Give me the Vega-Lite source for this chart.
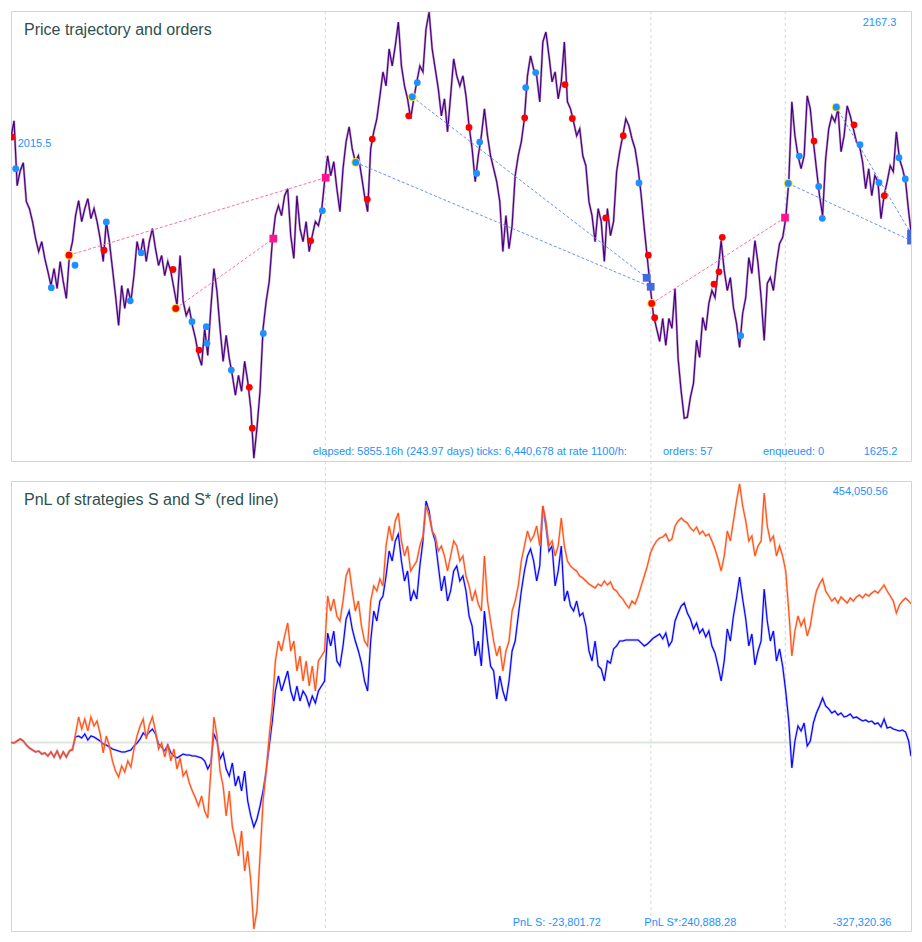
{
"$schema": "https://vega.github.io/schema/vega-lite/v6.json",
"padding": {"left": 10, "top": 10, "right": 12, "bottom": 12},
"background": "white",
"spacing": 20,
"bounds": "flush",
"config": {"view": {"stroke": "#d4d4d4", "strokeWidth": 1}, "axis": {"disable": true}, "font": "Liberation Sans", "text": {"font": "Liberation Sans"}},
"datasets": {
"gridx": [{"t": 2045}, {"t": 4163}, {"t": 5037}],
"price": [{"t":0,"p":2015.5},{"t":20,"p":2035},{"t":40,"p":1956.9},{"t":60,"p":1974.9},{"t":80,"p":1984.5},{"t":100,"p":1937.6},{"t":120,"p":1929.2},{"t":140,"p":1913.6},{"t":160,"p":1893.1},{"t":180,"p":1877.5},{"t":200,"p":1889.5},{"t":220,"p":1869.1},{"t":240,"p":1853.4},{"t":260,"p":1836.6},{"t":280,"p":1857.1},{"t":300,"p":1833},{"t":320,"p":1865.5},{"t":340,"p":1841.4},{"t":360,"p":1821},{"t":380,"p":1872.7},{"t":400,"p":1889.5},{"t":420,"p":1920.8},{"t":440,"p":1938.8},{"t":460,"p":1913.6},{"t":480,"p":1929.2},{"t":500,"p":1941.2},{"t":520,"p":1917.2},{"t":540,"p":1929.2},{"t":560,"p":1913.6},{"t":580,"p":1893.1},{"t":600,"p":1865.5},{"t":620,"p":1913.6},{"t":640,"p":1889.5},{"t":660,"p":1857.1},{"t":680,"p":1824.6},{"t":700,"p":1788.5},{"t":720,"p":1836.6},{"t":740,"p":1809},{"t":760,"p":1833},{"t":780,"p":1817.4},{"t":800,"p":1848.6},{"t":820,"p":1889.5},{"t":840,"p":1872.7},{"t":860,"p":1893.1},{"t":880,"p":1865.5},{"t":900,"p":1889.5},{"t":920,"p":1905.2},{"t":940,"p":1881.1},{"t":960,"p":1860.7},{"t":980,"p":1872.7},{"t":1000,"p":1848.6},{"t":1020,"p":1865.5},{"t":1040,"p":1853.4},{"t":1060,"p":1833},{"t":1080,"p":1812.6},{"t":1100,"p":1872.7},{"t":1120,"p":1817.4},{"t":1140,"p":1800.5},{"t":1160,"p":1809},{"t":1180,"p":1788.5},{"t":1200,"p":1772.9},{"t":1220,"p":1752.4},{"t":1240,"p":1740.4},{"t":1260,"p":1784.9},{"t":1280,"p":1752.4},{"t":1300,"p":1809},{"t":1320,"p":1857.1},{"t":1340,"p":1829.4},{"t":1360,"p":1784.9},{"t":1380,"p":1745.2},{"t":1400,"p":1776.5},{"t":1420,"p":1748.8},{"t":1440,"p":1728.4},{"t":1460,"p":1704.4},{"t":1480,"p":1728.4},{"t":1500,"p":1709.2},{"t":1520,"p":1745.2},{"t":1540,"p":1721.2},{"t":1560,"p":1688.7},{"t":1580,"p":1628.6},{"t":1600,"p":1664.7},{"t":1620,"p":1709.2},{"t":1640,"p":1784.9},{"t":1660,"p":1817.4},{"t":1680,"p":1841.4},{"t":1700,"p":1889.5},{"t":1720,"p":1920.8},{"t":1740,"p":1932.8},{"t":1760,"p":1920.8},{"t":1780,"p":1944.8},{"t":1800,"p":1953.2},{"t":1820,"p":1896.7},{"t":1840,"p":1869.1},{"t":1860,"p":1944.8},{"t":1880,"p":1905.2},{"t":1900,"p":1889.5},{"t":1920,"p":1913.6},{"t":1940,"p":1877.5},{"t":1960,"p":1896.7},{"t":1980,"p":1913.6},{"t":2000,"p":1908.8},{"t":2020,"p":1925.6},{"t":2040,"p":1961.7},{"t":2060,"p":1992.9},{"t":2080,"p":1968.9},{"t":2100,"p":1985.7},{"t":2120,"p":1953.2},{"t":2140,"p":1925.6},{"t":2160,"p":1977.3},{"t":2180,"p":2009.8},{"t":2200,"p":2027.8},{"t":2220,"p":2001.3},{"t":2240,"p":1985.7},{"t":2260,"p":1992.9},{"t":2280,"p":1968.9},{"t":2300,"p":1944.8},{"t":2320,"p":1925.6},{"t":2340,"p":2001.3},{"t":2360,"p":2021.8},{"t":2380,"p":2037.4},{"t":2400,"p":2065.1},{"t":2420,"p":2093.9},{"t":2440,"p":2077.1},{"t":2460,"p":2121.6},{"t":2480,"p":2101.1},{"t":2500,"p":2125.2},{"t":2520,"p":2154},{"t":2540,"p":2101.1},{"t":2560,"p":2077.1},{"t":2580,"p":2061.5},{"t":2600,"p":2037.4},{"t":2620,"p":2061.5},{"t":2640,"p":2081.9},{"t":2660,"p":2101.1},{"t":2680,"p":2093.9},{"t":2700,"p":2145.6},{"t":2720,"p":2166.1},{"t":2740,"p":2121.6},{"t":2760,"p":2097.5},{"t":2780,"p":2073.5},{"t":2800,"p":2041},{"t":2820,"p":2061.5},{"t":2840,"p":2021.8},{"t":2860,"p":2065.1},{"t":2880,"p":2109.6},{"t":2900,"p":2089.1},{"t":2920,"p":2077.1},{"t":2940,"p":2089.1},{"t":2960,"p":2065.1},{"t":2980,"p":2029},{"t":3000,"p":2001.3},{"t":3020,"p":1961.7},{"t":3040,"p":1992.9},{"t":3060,"p":2017},{"t":3080,"p":2049.4},{"t":3100,"p":2017},{"t":3120,"p":1992.9},{"t":3140,"p":1977.3},{"t":3160,"p":1961.7},{"t":3180,"p":1937.6},{"t":3200,"p":1877.5},{"t":3220,"p":1920.8},{"t":3240,"p":1881.1},{"t":3260,"p":1908.8},{"t":3280,"p":1968.9},{"t":3300,"p":1992.9},{"t":3320,"p":2009.8},{"t":3340,"p":2037.4},{"t":3360,"p":2089.1},{"t":3380,"p":2113.2},{"t":3400,"p":2097.5},{"t":3420,"p":2089.1},{"t":3440,"p":2057.9},{"t":3460,"p":2130},{"t":3480,"p":2142},{"t":3500,"p":2113.2},{"t":3520,"p":2081.9},{"t":3540,"p":2093.9},{"t":3560,"p":2061.5},{"t":3580,"p":2081.9},{"t":3600,"p":2130},{"t":3620,"p":2057.9},{"t":3640,"p":2049.4},{"t":3660,"p":2033.8},{"t":3680,"p":2017},{"t":3700,"p":2025.4},{"t":3720,"p":1992.9},{"t":3740,"p":1980.9},{"t":3760,"p":1937.6},{"t":3780,"p":1920.8},{"t":3800,"p":1889.5},{"t":3820,"p":1929.2},{"t":3840,"p":1913.6},{"t":3860,"p":1865.5},{"t":3880,"p":1929.2},{"t":3900,"p":1896.7},{"t":3920,"p":1913.6},{"t":3940,"p":1973.7},{"t":3960,"p":1997.7},{"t":3980,"p":2017},{"t":4000,"p":2037.4},{"t":4020,"p":2029},{"t":4040,"p":2013.4},{"t":4060,"p":2001.3},{"t":4080,"p":1977.3},{"t":4100,"p":1944.8},{"t":4120,"p":1905.2},{"t":4140,"p":1869.1},{"t":4160,"p":1833},{"t":4180,"p":1800.5},{"t":4200,"p":1784.9},{"t":4220,"p":1769.3},{"t":4240,"p":1796.9},{"t":4260,"p":1764.5},{"t":4280,"p":1796.9},{"t":4300,"p":1784.9},{"t":4320,"p":1833},{"t":4340,"p":1748.8},{"t":4360,"p":1709.2},{"t":4380,"p":1676.7},{"t":4400,"p":1677.9},{"t":4420,"p":1701.9},{"t":4440,"p":1718.8},{"t":4460,"p":1770.5},{"t":4480,"p":1750},{"t":4500,"p":1798.1},{"t":4520,"p":1782.5},{"t":4540,"p":1815},{"t":4560,"p":1830.6},{"t":4580,"p":1822.2},{"t":4600,"p":1854.7},{"t":4620,"p":1890.7},{"t":4640,"p":1854.7},{"t":4660,"p":1830.6},{"t":4680,"p":1846.2},{"t":4700,"p":1810.2},{"t":4720,"p":1790.9},{"t":4740,"p":1762.1},{"t":4760,"p":1802.9},{"t":4780,"p":1822.2},{"t":4800,"p":1870.3},{"t":4820,"p":1851},{"t":4840,"p":1890.7},{"t":4860,"p":1863.1},{"t":4880,"p":1822.2},{"t":4900,"p":1770.5},{"t":4920,"p":1839},{"t":4940,"p":1846.2},{"t":4960,"p":1830.6},{"t":4980,"p":1863.1},{"t":5000,"p":1887.1},{"t":5020,"p":1894.3},{"t":5040,"p":1917.2},{"t":5060,"p":1961.7},{"t":5080,"p":2057.9},{"t":5100,"p":2017},{"t":5120,"p":1992.9},{"t":5140,"p":1977.3},{"t":5160,"p":1992.9},{"t":5180,"p":2065.1},{"t":5200,"p":2049.4},{"t":5220,"p":2009.8},{"t":5240,"p":1977.3},{"t":5260,"p":1944.8},{"t":5280,"p":1920.8},{"t":5300,"p":1989.3},{"t":5320,"p":2025.4},{"t":5340,"p":2041},{"t":5360,"p":2033.8},{"t":5380,"p":2049.4},{"t":5400,"p":1997.7},{"t":5420,"p":2017},{"t":5440,"p":2053},{"t":5460,"p":2041},{"t":5480,"p":2025.4},{"t":5500,"p":2009.8},{"t":5520,"p":2005},{"t":5540,"p":1985.7},{"t":5560,"p":1953.2},{"t":5580,"p":1977.3},{"t":5600,"p":1944.8},{"t":5620,"p":1968.9},{"t":5640,"p":1961.7},{"t":5660,"p":1917.2},{"t":5680,"p":1944.8},{"t":5700,"p":1961.7},{"t":5720,"p":1980.9},{"t":5740,"p":1973.7},{"t":5760,"p":2021.8},{"t":5780,"p":1989.3},{"t":5800,"p":1977.3},{"t":5820,"p":1961.7},{"t":5840,"p":1925.6},{"t":5855.16,"p":1901.5}],
"orders": [{"t":5,"p":2015.5,"side":"sell","hl":0},{"t":30.6,"p":1977.3,"side":"buy","hl":0},{"t":262.2,"p":1833.9,"side":"buy","hl":0},{"t":377.3,"p":1873.1,"side":"sell","hl":1},{"t":416.4,"p":1861,"side":"buy","hl":0},{"t":605,"p":1879.1,"side":"sell","hl":0},{"t":620,"p":1913.2,"side":"buy","hl":0},{"t":776.1,"p":1818.2,"side":"buy","hl":0},{"t":847.7,"p":1875.9,"side":"buy","hl":0},{"t":1053.9,"p":1855.9,"side":"sell","hl":0},{"t":1071.5,"p":1809,"side":"sell","hl":1},{"t":1177.5,"p":1793,"side":"buy","hl":0},{"t":1270.6,"p":1787,"side":"buy","hl":0},{"t":1275.1,"p":1766.9,"side":"buy","hl":0},{"t":1223.1,"p":1758.8,"side":"sell","hl":0},{"t":1433.2,"p":1734.8,"side":"buy","hl":0},{"t":1550.3,"p":1714,"side":"sell","hl":0},{"t":1569.8,"p":1664.7,"side":"sell","hl":0},{"t":1641.4,"p":1778.9,"side":"buy","hl":0},{"t":1949.8,"p":1890.4,"side":"sell","hl":0},{"t":2025.2,"p":1926.8,"side":"buy","hl":0},{"t":2242.5,"p":1984.9,"side":"buy","hl":1},{"t":2318,"p":1940.4,"side":"sell","hl":0},{"t":2350.5,"p":2013,"side":"sell","hl":0},{"t":2587.3,"p":2041,"side":"sell","hl":0},{"t":2610.7,"p":2063.9,"side":"buy","hl":1},{"t":2643.3,"p":2081.1,"side":"buy","hl":0},{"t":2979.6,"p":2027,"side":"sell","hl":0},{"t":3029.7,"p":1971.6,"side":"buy","hl":0},{"t":3049.2,"p":2009.4,"side":"buy","hl":0},{"t":3342,"p":2038.6,"side":"sell","hl":0},{"t":3348.5,"p":2075.1,"side":"buy","hl":0},{"t":3413.5,"p":2093.1,"side":"buy","hl":0},{"t":3604.2,"p":2078.7,"side":"sell","hl":0},{"t":3651.7,"p":2037.8,"side":"sell","hl":0},{"t":3868.9,"p":1918,"side":"sell","hl":0},{"t":3983.4,"p":2017,"side":"sell","hl":0},{"t":4085.6,"p":1960.1,"side":"buy","hl":0},{"t":4146.1,"p":1873.1,"side":"sell","hl":0},{"t":4168.2,"p":1815,"side":"sell","hl":1},{"t":4187.7,"p":1797.8,"side":"sell","hl":0},{"t":4573.5,"p":1838.2,"side":"sell","hl":0},{"t":4606,"p":1853.1,"side":"sell","hl":0},{"t":4627.5,"p":1894.7,"side":"sell","hl":0},{"t":4747.2,"p":1776.1,"side":"buy","hl":0},{"t":5056.9,"p":1959.6,"side":"buy","hl":1},{"t":5128.4,"p":1992.6,"side":"buy","hl":0},{"t":5224.1,"p":2010.6,"side":"sell","hl":0},{"t":5254.7,"p":1956,"side":"buy","hl":0},{"t":5278.1,"p":1917.5,"side":"buy","hl":0},{"t":5369.2,"p":2051.5,"side":"buy","hl":1},{"t":5484.3,"p":2030.2,"side":"sell","hl":0},{"t":5523.4,"p":2006.2,"side":"buy","hl":0},{"t":5647,"p":1960.5,"side":"buy","hl":0},{"t":5681.5,"p":1944.8,"side":"sell","hl":0},{"t":5777.1,"p":1990.5,"side":"buy","hl":0},{"t":5818.1,"p":1964.9,"side":"buy","hl":0}],
"fills": [{"t":1706.5,"p":1893.1,"side":"sell"},{"t":2047.3,"p":1966.5,"side":"sell"},{"t":5035.4,"p":1918.4,"side":"sell"},{"t":4135.7,"p":1845.9,"side":"buy"},{"t":4161.7,"p":1835.1,"side":"buy"},{"t":5855.16,"p":1899.1,"side":"buy"},{"t":5855.16,"p":1890.7,"side":"buy"}],
"links": [{"t":377.3,"p":1873.1,"t2":2047.3,"p2":1966.5,"side":"sell"},{"t":1071.5,"p":1809,"t2":1706.5,"p2":1893.1,"side":"sell"},{"t":4168.2,"p":1815,"t2":5035.4,"p2":1918.4,"side":"sell"},{"t":2242.5,"p":1984.9,"t2":4161.7,"p2":1835.1,"side":"buy"},{"t":2610.7,"p":2063.9,"t2":4135.7,"p2":1845.9,"side":"buy"},{"t":5056.9,"p":1959.6,"t2":5855.16,"p2":1890.7,"side":"buy"},{"t":5369.2,"p":2051.5,"t2":5855.16,"p2":1899.1,"side":"buy"}],
"pnl": [{"t":0,"s":0,"ss":0},{"t":20,"s":-900,"ss":-900},{"t":40,"s":2600,"ss":2600},{"t":60,"s":6100,"ss":6100},{"t":80,"s":2600,"ss":2600},{"t":100,"s":-4300,"ss":-4300},{"t":120,"s":-9600,"ss":-9600},{"t":140,"s":-13000,"ss":-13000},{"t":160,"s":-16500,"ss":-16500},{"t":180,"s":-14800,"ss":-14800},{"t":200,"s":-20000,"ss":-20000},{"t":220,"s":-18200,"ss":-18200},{"t":240,"s":-23400,"ss":-23400},{"t":260,"s":-16500,"ss":-16500},{"t":280,"s":-25200,"ss":-25200},{"t":300,"s":-14800,"ss":-14800},{"t":320,"s":-26900,"ss":-26900},{"t":340,"s":-16500,"ss":-16500},{"t":360,"s":-25200,"ss":-25200},{"t":380,"s":-14800,"ss":-14800},{"t":400,"s":-11300,"ss":-13000},{"t":420,"s":9600,"ss":14800},{"t":440,"s":11300,"ss":44300},{"t":460,"s":7800,"ss":23400},{"t":480,"s":14800,"ss":40800},{"t":500,"s":4300,"ss":20000},{"t":520,"s":11300,"ss":44300},{"t":540,"s":9600,"ss":28700},{"t":560,"s":6100,"ss":37300},{"t":580,"s":2600,"ss":14800},{"t":600,"s":-2600,"ss":-18200},{"t":620,"s":-4300,"ss":11300},{"t":640,"s":-7800,"ss":-6100},{"t":660,"s":-11300,"ss":-32100},{"t":680,"s":-13000,"ss":-49500},{"t":700,"s":-14800,"ss":-59900},{"t":720,"s":-16500,"ss":-40800},{"t":740,"s":-16500,"ss":-51200},{"t":760,"s":-14800,"ss":-32100},{"t":780,"s":-13000,"ss":-42500},{"t":800,"s":-6100,"ss":-11300},{"t":820,"s":-900,"ss":11300},{"t":840,"s":6100,"ss":28700},{"t":860,"s":16500,"ss":40800},{"t":880,"s":11300,"ss":6100},{"t":900,"s":18200,"ss":30400},{"t":920,"s":23400,"ss":44300},{"t":940,"s":14800,"ss":20000},{"t":960,"s":-2600,"ss":-11300},{"t":980,"s":-7800,"ss":-900},{"t":1000,"s":-14800,"ss":-25200},{"t":1020,"s":-4300,"ss":-4300},{"t":1040,"s":-18200,"ss":-32100},{"t":1060,"s":-23400,"ss":-11300},{"t":1080,"s":-26900,"ss":-46000},{"t":1100,"s":-23400,"ss":-26900},{"t":1120,"s":-20000,"ss":-58200},{"t":1140,"s":-21700,"ss":-49500},{"t":1160,"s":-21700,"ss":-70300},{"t":1180,"s":-23400,"ss":-84200},{"t":1200,"s":-23400,"ss":-96400},{"t":1220,"s":-25200,"ss":-110300},{"t":1240,"s":-26900,"ss":-92900},{"t":1260,"s":-32100,"ss":-118900},{"t":1280,"s":-46000,"ss":-131100},{"t":1300,"s":-35600,"ss":-49500},{"t":1320,"s":14800,"ss":44300},{"t":1340,"s":2600,"ss":11300},{"t":1360,"s":-28700,"ss":-49500},{"t":1380,"s":-18200,"ss":-75500},{"t":1400,"s":-46000,"ss":-127600},{"t":1420,"s":-58200,"ss":-84200},{"t":1440,"s":-35600,"ss":-146700},{"t":1460,"s":-75500,"ss":-171000},{"t":1480,"s":-58200,"ss":-197100},{"t":1500,"s":-84200,"ss":-153700},{"t":1520,"s":-49500,"ss":-223100},{"t":1540,"s":-101600,"ss":-188400},{"t":1560,"s":-127600,"ss":-240500},{"t":1580,"s":-146700,"ss":-323800},{"t":1600,"s":-132800,"ss":-292600},{"t":1620,"s":-110300,"ss":-197100},{"t":1640,"s":-84200,"ss":-101600},{"t":1660,"s":-49500,"ss":-49500},{"t":1680,"s":-6100,"ss":11300},{"t":1700,"s":37300,"ss":63400},{"t":1720,"s":89400,"ss":141500},{"t":1740,"s":115500,"ss":176200},{"t":1760,"s":89400,"ss":158900},{"t":1780,"s":106800,"ss":184900},{"t":1800,"s":124200,"ss":207500},{"t":1820,"s":89400,"ss":158900},{"t":1840,"s":72100,"ss":176200},{"t":1860,"s":98100,"ss":124200},{"t":1880,"s":72100,"ss":150200},{"t":1900,"s":89400,"ss":106800},{"t":1920,"s":80700,"ss":141500},{"t":1940,"s":63400,"ss":98100},{"t":1960,"s":80700,"ss":132800},{"t":1980,"s":68600,"ss":89400},{"t":2000,"s":89400,"ss":141500},{"t":2020,"s":98100,"ss":150200},{"t":2040,"s":106800,"ss":158900},{"t":2060,"s":190100,"ss":254400},{"t":2080,"s":167600,"ss":228300},{"t":2100,"s":193600,"ss":249200},{"t":2120,"s":141500,"ss":219700},{"t":2140,"s":132800,"ss":211000},{"t":2160,"s":167600,"ss":245700},{"t":2180,"s":214400,"ss":289100},{"t":2200,"s":228300,"ss":303000},{"t":2220,"s":197100,"ss":263100},{"t":2240,"s":176200,"ss":228300},{"t":2260,"s":158900,"ss":245700},{"t":2280,"s":138000,"ss":202300},{"t":2300,"s":106800,"ss":176200},{"t":2320,"s":89400,"ss":167600},{"t":2340,"s":176200,"ss":245700},{"t":2360,"s":228300,"ss":271800},{"t":2380,"s":211000,"ss":263100},{"t":2400,"s":245700,"ss":283900},{"t":2420,"s":254400,"ss":271800},{"t":2440,"s":289100,"ss":341200},{"t":2460,"s":332500,"ss":375900},{"t":2480,"s":315200,"ss":349900},{"t":2500,"s":349900,"ss":384600},{"t":2520,"s":362000,"ss":398500},{"t":2540,"s":315200,"ss":349900},{"t":2560,"s":280400,"ss":323800},{"t":2580,"s":297800,"ss":341200},{"t":2600,"s":245700,"ss":297800},{"t":2620,"s":263100,"ss":306500},{"t":2640,"s":249200,"ss":315200},{"t":2660,"s":306500,"ss":341200},{"t":2680,"s":349900,"ss":358600},{"t":2700,"s":419300,"ss":410700},{"t":2720,"s":402000,"ss":393300},{"t":2740,"s":367200,"ss":367200},{"t":2760,"s":349900,"ss":358600},{"t":2780,"s":306500,"ss":332500},{"t":2800,"s":263100,"ss":341200},{"t":2820,"s":289100,"ss":323800},{"t":2840,"s":245700,"ss":297800},{"t":2860,"s":263100,"ss":323800},{"t":2880,"s":297800,"ss":349900},{"t":2900,"s":306500,"ss":341200},{"t":2920,"s":280400,"ss":315200},{"t":2940,"s":289100,"ss":323800},{"t":2960,"s":263100,"ss":289100},{"t":2980,"s":219700,"ss":271800},{"t":3000,"s":202300,"ss":245700},{"t":3020,"s":150200,"ss":263100},{"t":3040,"s":176200,"ss":240500},{"t":3060,"s":132800,"ss":228300},{"t":3080,"s":228300,"ss":323800},{"t":3100,"s":176200,"ss":245700},{"t":3120,"s":132800,"ss":211000},{"t":3140,"s":124200,"ss":176200},{"t":3160,"s":75500,"ss":150200},{"t":3180,"s":115500,"ss":167600},{"t":3200,"s":89400,"ss":124200},{"t":3220,"s":72100,"ss":158900},{"t":3240,"s":106800,"ss":176200},{"t":3260,"s":158900,"ss":228300},{"t":3280,"s":176200,"ss":245700},{"t":3300,"s":219700,"ss":271800},{"t":3320,"s":263100,"ss":315200},{"t":3340,"s":297800,"ss":341200},{"t":3360,"s":323800,"ss":367200},{"t":3380,"s":336000,"ss":349900},{"t":3400,"s":315200,"ss":358600},{"t":3420,"s":280400,"ss":375900},{"t":3440,"s":306500,"ss":341200},{"t":3460,"s":410700,"ss":410700},{"t":3480,"s":375900,"ss":384600},{"t":3500,"s":332500,"ss":341200},{"t":3520,"s":341200,"ss":349900},{"t":3540,"s":271800,"ss":323800},{"t":3560,"s":297800,"ss":341200},{"t":3580,"s":341200,"ss":389800},{"t":3600,"s":245700,"ss":341200},{"t":3620,"s":263100,"ss":315200},{"t":3640,"s":237000,"ss":306500},{"t":3660,"s":228300,"ss":301300},{"t":3680,"s":245700,"ss":297800},{"t":3700,"s":219700,"ss":289100},{"t":3720,"s":224900,"ss":285600},{"t":3740,"s":202300,"ss":280400},{"t":3760,"s":158900,"ss":275200},{"t":3780,"s":141500,"ss":271800},{"t":3800,"s":176200,"ss":268300},{"t":3820,"s":132800,"ss":275200},{"t":3840,"s":127600,"ss":271800},{"t":3860,"s":106800,"ss":280400},{"t":3880,"s":141500,"ss":273500},{"t":3900,"s":138000,"ss":278700},{"t":3920,"s":162400,"ss":266500},{"t":3940,"s":167600,"ss":263100},{"t":3960,"s":176200,"ss":254400},{"t":3980,"s":176200,"ss":249200},{"t":4000,"s":178000,"ss":240500},{"t":4020,"s":178000,"ss":233500},{"t":4040,"s":178000,"ss":245700},{"t":4060,"s":178000,"ss":240500},{"t":4080,"s":178000,"ss":254400},{"t":4100,"s":172800,"ss":271800},{"t":4120,"s":167600,"ss":289100},{"t":4140,"s":171000,"ss":306500},{"t":4160,"s":176200,"ss":329000},{"t":4180,"s":181500,"ss":341200},{"t":4200,"s":184900,"ss":349900},{"t":4220,"s":188400,"ss":355100},{"t":4240,"s":179700,"ss":356800},{"t":4260,"s":190100,"ss":362000},{"t":4280,"s":167600,"ss":349900},{"t":4300,"s":176200,"ss":353400},{"t":4320,"s":211000,"ss":375900},{"t":4340,"s":224900,"ss":384600},{"t":4360,"s":237000,"ss":389800},{"t":4380,"s":242200,"ss":384600},{"t":4400,"s":224900,"ss":381100},{"t":4420,"s":214400,"ss":372500},{"t":4440,"s":197100,"ss":367200},{"t":4460,"s":207500,"ss":374200},{"t":4480,"s":190100,"ss":362000},{"t":4500,"s":197100,"ss":367200},{"t":4520,"s":183200,"ss":358600},{"t":4540,"s":193600,"ss":362000},{"t":4560,"s":167600,"ss":349900},{"t":4580,"s":155400,"ss":336000},{"t":4600,"s":132800,"ss":318600},{"t":4620,"s":106800,"ss":297800},{"t":4640,"s":141500,"ss":323800},{"t":4660,"s":197100,"ss":367200},{"t":4680,"s":176200,"ss":349900},{"t":4700,"s":219700,"ss":384600},{"t":4720,"s":250900,"ss":419300},{"t":4740,"s":287400,"ss":448900},{"t":4760,"s":249200,"ss":410700},{"t":4780,"s":214400,"ss":384600},{"t":4800,"s":167600,"ss":349900},{"t":4820,"s":188400,"ss":358600},{"t":4840,"s":134600,"ss":323800},{"t":4860,"s":158900,"ss":341200},{"t":4880,"s":176200,"ss":349900},{"t":4900,"s":266500,"ss":433200},{"t":4920,"s":211000,"ss":375900},{"t":4940,"s":176200,"ss":349900},{"t":4960,"s":193600,"ss":358600},{"t":4980,"s":141500,"ss":323800},{"t":5000,"s":162400,"ss":341200},{"t":5020,"s":132800,"ss":323800},{"t":5040,"s":89400,"ss":297800},{"t":5060,"s":37300,"ss":228300},{"t":5080,"s":-44300,"ss":150200},{"t":5100,"s":2600,"ss":193600},{"t":5120,"s":28700,"ss":219700},{"t":5140,"s":20000,"ss":202300},{"t":5160,"s":33900,"ss":214400},{"t":5180,"s":-6100,"ss":184900},{"t":5200,"s":2600,"ss":202300},{"t":5220,"s":33900,"ss":237000},{"t":5240,"s":51200,"ss":263100},{"t":5260,"s":63400,"ss":275200},{"t":5280,"s":77300,"ss":283900},{"t":5300,"s":63400,"ss":263100},{"t":5320,"s":58200,"ss":254400},{"t":5340,"s":51200,"ss":245700},{"t":5360,"s":54700,"ss":250900},{"t":5380,"s":47800,"ss":242200},{"t":5400,"s":51200,"ss":252600},{"t":5420,"s":44300,"ss":247400},{"t":5440,"s":46000,"ss":242200},{"t":5460,"s":49500,"ss":250900},{"t":5480,"s":42500,"ss":245700},{"t":5500,"s":44300,"ss":252600},{"t":5520,"s":40800,"ss":256100},{"t":5540,"s":37300,"ss":250900},{"t":5560,"s":39100,"ss":257900},{"t":5580,"s":35600,"ss":254400},{"t":5600,"s":37300,"ss":259600},{"t":5620,"s":32100,"ss":263100},{"t":5640,"s":33900,"ss":259600},{"t":5660,"s":26900,"ss":266500},{"t":5680,"s":40800,"ss":273500},{"t":5700,"s":25200,"ss":263100},{"t":5720,"s":26900,"ss":254400},{"t":5740,"s":23400,"ss":245700},{"t":5760,"s":21700,"ss":224900},{"t":5780,"s":20000,"ss":238800},{"t":5800,"s":21700,"ss":245700},{"t":5820,"s":18200,"ss":250900},{"t":5840,"s":2600,"ss":245700},{"t":5855.16,"s":-23801.72,"ss":240888.28}]
},
"vconcat": [
{
"width": 900, "height": 450,
"layer": [
{"data": {"name": "gridx"}, "mark": {"type": "rule", "color": "#cddccd", "strokeDash": [3, 3], "strokeWidth": 1},
 "encoding": {"x": {"field": "t", "type": "quantitative", "scale": {"domain": [0, 5855.16], "nice": false, "zero": false}},
  "y": {"datum": 2167.3, "type": "quantitative", "scale": {"domain": [1625.2, 2167.3], "nice": false, "zero": false}},
  "y2": {"datum": 1601.5}}},
{"data": {"name": "price"}, "mark": {"type": "line", "color": "#a27cb4", "strokeWidth": 2.4, "opacity": 0.7, "clip": true},
 "encoding": {"x": {"field": "t", "type": "quantitative", "scale": {"domain": [0, 5855.16], "nice": false, "zero": false}},
  "y": {"field": "p", "type": "quantitative", "scale": {"domain": [1625.2, 2167.3], "nice": false, "zero": false}}}},
{"data": {"name": "price"}, "mark": {"type": "line", "color": "#4b0082", "strokeWidth": 1.2, "clip": true},
 "encoding": {"x": {"field": "t", "type": "quantitative", "scale": {"domain": [0, 5855.16], "nice": false, "zero": false}},
  "y": {"field": "p", "type": "quantitative", "scale": {"domain": [1625.2, 2167.3], "nice": false, "zero": false}}}},
{"data": {"name": "links"}, "mark": {"type": "rule", "strokeDash": [3, 2], "strokeWidth": 1, "clip": true},
 "encoding": {"x": {"field": "t", "type": "quantitative", "scale": {"domain": [0, 5855.16], "nice": false, "zero": false}},
  "y": {"field": "p", "type": "quantitative", "scale": {"domain": [1625.2, 2167.3], "nice": false, "zero": false}},
  "x2": {"field": "t2"}, "y2": {"field": "p2"},
  "color": {"condition": {"test": "datum.side === 'sell'", "value": "#ff6aae"}, "value": "#6f8ff0"}}},
{"data": {"name": "fills"}, "mark": {"type": "square", "size": 60, "opacity": 1, "clip": true},
 "encoding": {"x": {"field": "t", "type": "quantitative", "scale": {"domain": [0, 5855.16], "nice": false, "zero": false}},
  "y": {"field": "p", "type": "quantitative", "scale": {"domain": [1625.2, 2167.3], "nice": false, "zero": false}},
  "color": {"condition": {"test": "datum.side === 'sell'", "value": "#ff1493"}, "value": "#4169e1"}}},
{"data": {"name": "orders"}, "transform": [{"filter": "datum.hl == 1"}], "mark": {"type": "circle", "size": 78, "opacity": 1, "color": "#ffe21a", "clip": true},
 "encoding": {"x": {"field": "t", "type": "quantitative", "scale": {"domain": [0, 5855.16], "nice": false, "zero": false}},
  "y": {"field": "p", "type": "quantitative", "scale": {"domain": [1625.2, 2167.3], "nice": false, "zero": false}}}},
{"data": {"name": "orders"}, "mark": {"type": "circle", "size": 46, "opacity": 1, "clip": true},
 "encoding": {"x": {"field": "t", "type": "quantitative", "scale": {"domain": [0, 5855.16], "nice": false, "zero": false}},
  "y": {"field": "p", "type": "quantitative", "scale": {"domain": [1625.2, 2167.3], "nice": false, "zero": false}},
  "color": {"condition": {"test": "datum.side === 'sell'", "value": "#ff0000"}, "value": "#1e90ff"}}},
{"data": {"values": [{}]}, "mark": {"type": "text", "align": "left", "baseline": "alphabetic", "fontSize": 16, "color": "#2f4f4f"},
 "encoding": {"x": {"datum": 84.6, "type": "quantitative", "scale": {"domain": [0, 5855.16], "nice": false, "zero": false}}, "y": {"datum": 2138.9, "type": "quantitative", "scale": {"domain": [1625.2, 2167.3], "nice": false, "zero": false}}, "text": {"value": "Price trajectory and orders"}}},
{"data": {"values": [{}]}, "mark": {"type": "text", "align": "left", "baseline": "alphabetic", "fontSize": 11, "color": "#1e90ff"},
 "encoding": {"x": {"datum": 43.6, "type": "quantitative", "scale": {"domain": [0, 5855.16], "nice": false, "zero": false}}, "y": {"datum": 2003.2, "type": "quantitative", "scale": {"domain": [1625.2, 2167.3], "nice": false, "zero": false}}, "text": {"value": "2015.5"}}},
{"data": {"values": [{}]}, "mark": {"type": "text", "align": "left", "baseline": "alphabetic", "fontSize": 11, "color": "#1e90ff"},
 "encoding": {"x": {"datum": 5540.9, "type": "quantitative", "scale": {"domain": [0, 5855.16], "nice": false, "zero": false}}, "y": {"datum": 2149.2, "type": "quantitative", "scale": {"domain": [1625.2, 2167.3], "nice": false, "zero": false}}, "text": {"value": "2167.3"}}},
{"data": {"values": [{}]}, "mark": {"type": "text", "align": "left", "baseline": "alphabetic", "fontSize": 11, "color": "#1e90ff"},
 "encoding": {"x": {"datum": 1962.8, "type": "quantitative", "scale": {"domain": [0, 5855.16], "nice": false, "zero": false}}, "y": {"datum": 1632.2, "type": "quantitative", "scale": {"domain": [1625.2, 2167.3], "nice": false, "zero": false}}, "text": {"value": "elapsed: 5855.16h (243.97 days) ticks: 6,440,678 at rate 1100/h:"}}},
{"data": {"values": [{}]}, "mark": {"type": "text", "align": "left", "baseline": "alphabetic", "fontSize": 11, "color": "#1e90ff"},
 "encoding": {"x": {"datum": 4241.7, "type": "quantitative", "scale": {"domain": [0, 5855.16], "nice": false, "zero": false}}, "y": {"datum": 1632.2, "type": "quantitative", "scale": {"domain": [1625.2, 2167.3], "nice": false, "zero": false}}, "text": {"value": "orders: 57"}}},
{"data": {"values": [{}]}, "mark": {"type": "text", "align": "left", "baseline": "alphabetic", "fontSize": 11, "color": "#1e90ff"},
 "encoding": {"x": {"datum": 4892.3, "type": "quantitative", "scale": {"domain": [0, 5855.16], "nice": false, "zero": false}}, "y": {"datum": 1632.2, "type": "quantitative", "scale": {"domain": [1625.2, 2167.3], "nice": false, "zero": false}}, "text": {"value": "enqueued: 0"}}},
{"data": {"values": [{}]}, "mark": {"type": "text", "align": "left", "baseline": "alphabetic", "fontSize": 11, "color": "#1e90ff"},
 "encoding": {"x": {"datum": 5547.4, "type": "quantitative", "scale": {"domain": [0, 5855.16], "nice": false, "zero": false}}, "y": {"datum": 1632.2, "type": "quantitative", "scale": {"domain": [1625.2, 2167.3], "nice": false, "zero": false}}, "text": {"value": "1625.2"}}}
]
},
{
"width": 900, "height": 450,
"layer": [
{"data": {"name": "gridx"}, "mark": {"type": "rule", "color": "#cddccd", "strokeDash": [3, 3], "strokeWidth": 1, "clip": true},
 "encoding": {"x": {"field": "t", "type": "quantitative", "scale": {"domain": [0, 5855.16], "nice": false, "zero": false}}}},
{"data": {"values": [{}]}, "mark": {"type": "rule", "color": "#dde5dd", "strokeWidth": 2, "clip": true},
 "encoding": {"y": {"datum": 0, "type": "quantitative", "scale": {"domain": [-327320.36, 454050.56], "nice": false, "zero": false}}}},
{"data": {"name": "pnl"}, "mark": {"type": "line", "color": "#8f8fff", "strokeWidth": 2.3, "opacity": 0.65, "clip": true},
 "encoding": {"x": {"field": "t", "type": "quantitative", "scale": {"domain": [0, 5855.16], "nice": false, "zero": false}},
  "y": {"field": "s", "type": "quantitative", "scale": {"domain": [-327320.36, 454050.56], "nice": false, "zero": false}}}},
{"data": {"name": "pnl"}, "mark": {"type": "line", "color": "#0000ff", "strokeWidth": 1.1, "clip": true},
 "encoding": {"x": {"field": "t", "type": "quantitative", "scale": {"domain": [0, 5855.16], "nice": false, "zero": false}},
  "y": {"field": "s", "type": "quantitative", "scale": {"domain": [-327320.36, 454050.56], "nice": false, "zero": false}}}},
{"data": {"name": "pnl"}, "mark": {"type": "line", "color": "#ffa488", "strokeWidth": 2.3, "opacity": 0.65, "clip": true},
 "encoding": {"x": {"field": "t", "type": "quantitative", "scale": {"domain": [0, 5855.16], "nice": false, "zero": false}},
  "y": {"field": "ss", "type": "quantitative", "scale": {"domain": [-327320.36, 454050.56], "nice": false, "zero": false}}}},
{"data": {"name": "pnl"}, "mark": {"type": "line", "color": "#ff4500", "strokeWidth": 1.1, "opacity": 0.9, "clip": true},
 "encoding": {"x": {"field": "t", "type": "quantitative", "scale": {"domain": [0, 5855.16], "nice": false, "zero": false}},
  "y": {"field": "ss", "type": "quantitative", "scale": {"domain": [-327320.36, 454050.56], "nice": false, "zero": false}}}},
{"data": {"values": [{}]}, "mark": {"type": "text", "align": "left", "baseline": "alphabetic", "fontSize": 16, "color": "#2f4f4f"},
 "encoding": {"x": {"datum": 84.6, "type": "quantitative", "scale": {"domain": [0, 5855.16], "nice": false, "zero": false}}, "y": {"datum": 412400, "type": "quantitative", "scale": {"domain": [-327320.36, 454050.56], "nice": false, "zero": false}}, "text": {"value": "PnL of strategies S and S* (red line)"}}},
{"data": {"values": [{}]}, "mark": {"type": "text", "align": "left", "baseline": "alphabetic", "fontSize": 11, "color": "#1e90ff"},
 "encoding": {"x": {"datum": 5345.7, "type": "quantitative", "scale": {"domain": [0, 5855.16], "nice": false, "zero": false}}, "y": {"datum": 428900, "type": "quantitative", "scale": {"domain": [-327320.36, 454050.56], "nice": false, "zero": false}}, "text": {"value": "454,050.56"}}},
{"data": {"values": [{}]}, "mark": {"type": "text", "align": "left", "baseline": "alphabetic", "fontSize": 11, "color": "#1e90ff"},
 "encoding": {"x": {"datum": 3263.9, "type": "quantitative", "scale": {"domain": [0, 5855.16], "nice": false, "zero": false}}, "y": {"datum": -318600, "type": "quantitative", "scale": {"domain": [-327320.36, 454050.56], "nice": false, "zero": false}}, "text": {"value": "PnL S: -23,801.72"}}},
{"data": {"values": [{}]}, "mark": {"type": "text", "align": "left", "baseline": "alphabetic", "fontSize": 11, "color": "#1e90ff"},
 "encoding": {"x": {"datum": 4120.1, "type": "quantitative", "scale": {"domain": [0, 5855.16], "nice": false, "zero": false}}, "y": {"datum": -318600, "type": "quantitative", "scale": {"domain": [-327320.36, 454050.56], "nice": false, "zero": false}}, "text": {"value": "PnL S*:240,888.28"}}},
{"data": {"values": [{}]}, "mark": {"type": "text", "align": "left", "baseline": "alphabetic", "fontSize": 11, "color": "#1e90ff"},
 "encoding": {"x": {"datum": 5345.7, "type": "quantitative", "scale": {"domain": [0, 5855.16], "nice": false, "zero": false}}, "y": {"datum": -318600, "type": "quantitative", "scale": {"domain": [-327320.36, 454050.56], "nice": false, "zero": false}}, "text": {"value": "-327,320.36"}}}
]
}
]
}
